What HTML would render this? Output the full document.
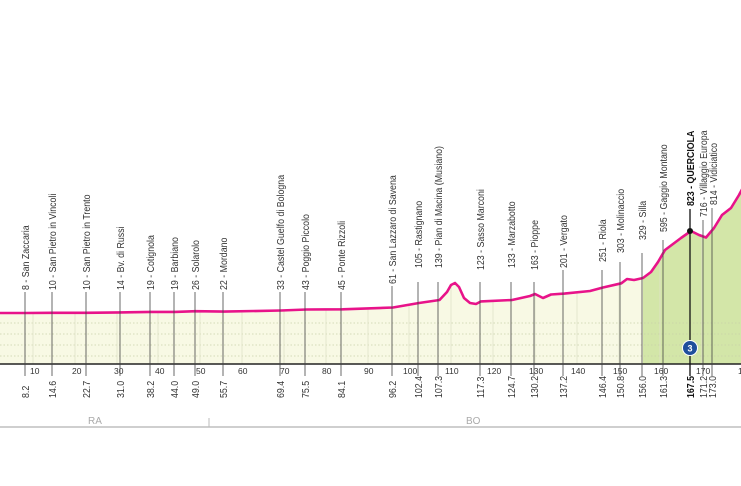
<!DOCTYPE html>
<html><head><meta charset="utf-8"><style>
html,body{margin:0;padding:0;background:#fff;}
svg{display:block;font-family:"Liberation Sans",sans-serif;}
</style></head><body>
<svg width="741" height="486" viewBox="0 0 741 486" xmlns="http://www.w3.org/2000/svg">
<defs>
<clipPath id="cl"><path d="M-9,313 L25.3,313 L52,312.8 L86,312.8 L120.6,312.4 L150.7,311.9 L175,311.9 L195.8,311.2 L223.8,311.6 L281,310.5 L306.6,309.5 L342.5,309.3 L393,307.5 L419,303 L439.5,300 L447,292 L451,285 L455,283 L459,287 L464,298 L470,303 L476,304 L481,301.4 L512,300 L530,296 L535,294 L543,298 L551,294.5 L564.5,293.6 L590,291 L603,287.5 L621.3,283.3 L627,279 L634,280 L643,278 L651,272 L658,262 L665,250 L673,244 L681,238 L691,231 L699,235 L706,237.5 L714,228 L722,215 L731,208 L739,195 L748,178 L748,364 L-9,364 Z"/></clipPath>
</defs>
<g clip-path="url(#cl)">
<rect x="0" y="170" width="643" height="194" fill="#f8f9e4"/>
<rect x="643" y="170" width="110" height="194" fill="#d3e6a8"/>
<g stroke="#c9cfa8" stroke-width="0.8" stroke-dasharray="1.5,2">
<line x1="0" y1="323" x2="741" y2="323"/><line x1="0" y1="334" x2="741" y2="334"/><line x1="0" y1="345" x2="741" y2="345"/><line x1="0" y1="356" x2="741" y2="356"/>
</g>
<g stroke="#dfe3c8" stroke-width="0.8">
<line x1="33" y1="170" x2="33" y2="364"/><line x1="75" y1="170" x2="75" y2="364"/><line x1="117" y1="170" x2="117" y2="364"/><line x1="158" y1="170" x2="158" y2="364"/><line x1="200" y1="170" x2="200" y2="364"/><line x1="242" y1="170" x2="242" y2="364"/><line x1="284" y1="170" x2="284" y2="364"/><line x1="326" y1="170" x2="326" y2="364"/><line x1="368" y1="170" x2="368" y2="364"/><line x1="409" y1="170" x2="409" y2="364"/><line x1="451" y1="170" x2="451" y2="364"/><line x1="493" y1="170" x2="493" y2="364"/><line x1="535" y1="170" x2="535" y2="364"/><line x1="577" y1="170" x2="577" y2="364"/><line x1="619" y1="170" x2="619" y2="364"/><line x1="660" y1="170" x2="660" y2="364"/><line x1="702" y1="170" x2="702" y2="364"/>
</g>
</g>
<path d="M-9,313 L25.3,313 L52,312.8 L86,312.8 L120.6,312.4 L150.7,311.9 L175,311.9 L195.8,311.2 L223.8,311.6 L281,310.5 L306.6,309.5 L342.5,309.3 L393,307.5 L419,303 L439.5,300 L447,292 L451,285 L455,283 L459,287 L464,298 L470,303 L476,304 L481,301.4 L512,300 L530,296 L535,294 L543,298 L551,294.5 L564.5,293.6 L590,291 L603,287.5 L621.3,283.3 L627,279 L634,280 L643,278 L651,272 L658,262 L665,250 L673,244 L681,238 L691,231 L699,235 L706,237.5 L714,228 L722,215 L731,208 L739,195 L748,178" fill="none" stroke="#e8138a" stroke-width="2.6" stroke-linejoin="round"/>
<line x1="0" y1="364" x2="741" y2="364" stroke="#222" stroke-width="1.5"/>
<g font-size="8.5" fill="#333">
<text x="30" y="374">10</text><text x="72" y="374">20</text><text x="114" y="374">30</text><text x="155" y="374">40</text><text x="196" y="374">50</text><text x="238" y="374">60</text><text x="280" y="374">70</text><text x="322" y="374">80</text><text x="364" y="374">90</text><text x="403" y="374">100</text><text x="445" y="374">110</text><text x="487" y="374">120</text><text x="529" y="374">130</text><text x="571" y="374">140</text><text x="613" y="374">150</text><text x="654" y="374">160</text><text x="696" y="374">170</text><text x="738" y="374">1</text>
</g>
<g stroke="#444" stroke-width="0.8">
<line x1="25" y1="292" x2="25" y2="376"/><line x1="52" y1="292" x2="52" y2="376"/><line x1="86" y1="292" x2="86" y2="376"/><line x1="120" y1="292" x2="120" y2="376"/><line x1="150" y1="292" x2="150" y2="376"/><line x1="174" y1="292" x2="174" y2="376"/><line x1="195" y1="292" x2="195" y2="376"/><line x1="223" y1="292" x2="223" y2="376"/><line x1="280" y1="292" x2="280" y2="376"/><line x1="305" y1="292" x2="305" y2="376"/><line x1="341" y1="292" x2="341" y2="376"/><line x1="392" y1="286" x2="392" y2="376"/><line x1="418" y1="282" x2="418" y2="376"/><line x1="438" y1="282" x2="438" y2="376"/><line x1="480" y1="282" x2="480" y2="376"/><line x1="511" y1="282" x2="511" y2="376"/><line x1="534" y1="282" x2="534" y2="376"/><line x1="563" y1="270" x2="563" y2="376"/><line x1="602" y1="270" x2="602" y2="376"/><line x1="620" y1="262" x2="620" y2="376"/><line x1="642" y1="253" x2="642" y2="376"/><line x1="663" y1="240" x2="663" y2="376"/><line x1="703" y1="220" x2="703" y2="376"/><line x1="712" y1="208" x2="712" y2="376"/>
</g>
<line x1="690" y1="209" x2="690" y2="376" stroke="#111" stroke-width="1.3"/>
<circle cx="690" cy="231" r="3" fill="#111"/>
<circle cx="690" cy="348" r="7.5" fill="#1f4f9c" stroke="#fff" stroke-width="1"/>
<text x="690" y="351.5" font-size="9" font-weight="bold" fill="#fff" text-anchor="middle">3</text>
<g font-size="10.5" fill="#333">
<g transform="translate(29,290) rotate(-90) scale(0.84,1)"><text>8 - San Zaccaria</text></g>
<g transform="translate(56,290) rotate(-90) scale(0.84,1)"><text>10 - San Pietro in Vincoli</text></g>
<g transform="translate(90,290) rotate(-90) scale(0.84,1)"><text>10 - San Pietro in Trento</text></g>
<g transform="translate(124,290) rotate(-90) scale(0.84,1)"><text>14 - Bv. di Russi</text></g>
<g transform="translate(154,290) rotate(-90) scale(0.84,1)"><text>19 - Cotignola</text></g>
<g transform="translate(178,290) rotate(-90) scale(0.84,1)"><text>19 - Barbiano</text></g>
<g transform="translate(199,290) rotate(-90) scale(0.84,1)"><text>26 - Solarolo</text></g>
<g transform="translate(227,290) rotate(-90) scale(0.84,1)"><text>22 - Mordano</text></g>
<g transform="translate(284,290) rotate(-90) scale(0.84,1)"><text>33 - Castel Guelfo di Bologna</text></g>
<g transform="translate(309,290) rotate(-90) scale(0.84,1)"><text>43 - Poggio Piccolo</text></g>
<g transform="translate(345,290) rotate(-90) scale(0.84,1)"><text>45 - Ponte Rizzoli</text></g>
<g transform="translate(396,284) rotate(-90) scale(0.84,1)"><text>61 - San Lazzaro di Savena</text></g>
<g transform="translate(422,268) rotate(-90) scale(0.84,1)"><text>105 - Rastignano</text></g>
<g transform="translate(442,268) rotate(-90) scale(0.84,1)"><text>139 - Pian di Macina (Musiano)</text></g>
<g transform="translate(484,270) rotate(-90) scale(0.84,1)"><text>123 - Sasso Marconi</text></g>
<g transform="translate(515,268) rotate(-90) scale(0.84,1)"><text>133 - Marzabotto</text></g>
<g transform="translate(538,270) rotate(-90) scale(0.84,1)"><text>163 - Pioppe</text></g>
<g transform="translate(567,268) rotate(-90) scale(0.84,1)"><text>201 - Vergato</text></g>
<g transform="translate(606,262) rotate(-90) scale(0.84,1)"><text>251 - Riola</text></g>
<g transform="translate(624,253) rotate(-90) scale(0.84,1)"><text>303 - Molinaccio</text></g>
<g transform="translate(646,240) rotate(-90) scale(0.84,1)"><text>329 - Silla</text></g>
<g transform="translate(667,232) rotate(-90) scale(0.84,1)"><text>595 - Gaggio Montano</text></g>
<g transform="translate(694,206) rotate(-90) scale(0.84,1)"><text font-weight="bold" fill="#111">823 - QUERCIOLA</text></g>
<g transform="translate(707,217) rotate(-90) scale(0.84,1)"><text>716 - Villaggio Europa</text></g>
<g transform="translate(717,205) rotate(-90) scale(0.84,1)"><text>814 - Vidiciatico</text></g>
</g>
<g font-size="10.5" fill="#333">
<g transform="translate(29,398) rotate(-90) scale(0.84,1)"><text>8.2</text></g>
<g transform="translate(56,398) rotate(-90) scale(0.84,1)"><text>14.6</text></g>
<g transform="translate(90,398) rotate(-90) scale(0.84,1)"><text>22.7</text></g>
<g transform="translate(124,398) rotate(-90) scale(0.84,1)"><text>31.0</text></g>
<g transform="translate(154,398) rotate(-90) scale(0.84,1)"><text>38.2</text></g>
<g transform="translate(178,398) rotate(-90) scale(0.84,1)"><text>44.0</text></g>
<g transform="translate(199,398) rotate(-90) scale(0.84,1)"><text>49.0</text></g>
<g transform="translate(227,398) rotate(-90) scale(0.84,1)"><text>55.7</text></g>
<g transform="translate(284,398) rotate(-90) scale(0.84,1)"><text>69.4</text></g>
<g transform="translate(309,398) rotate(-90) scale(0.84,1)"><text>75.5</text></g>
<g transform="translate(345,398) rotate(-90) scale(0.84,1)"><text>84.1</text></g>
<g transform="translate(396,398) rotate(-90) scale(0.84,1)"><text>96.2</text></g>
<g transform="translate(422,398) rotate(-90) scale(0.84,1)"><text>102.4</text></g>
<g transform="translate(442,398) rotate(-90) scale(0.84,1)"><text>107.3</text></g>
<g transform="translate(484,398) rotate(-90) scale(0.84,1)"><text>117.3</text></g>
<g transform="translate(515,398) rotate(-90) scale(0.84,1)"><text>124.7</text></g>
<g transform="translate(538,398) rotate(-90) scale(0.84,1)"><text>130.2</text></g>
<g transform="translate(567,398) rotate(-90) scale(0.84,1)"><text>137.2</text></g>
<g transform="translate(606,398) rotate(-90) scale(0.84,1)"><text>146.4</text></g>
<g transform="translate(624,398) rotate(-90) scale(0.84,1)"><text>150.8</text></g>
<g transform="translate(646,398) rotate(-90) scale(0.84,1)"><text>156.0</text></g>
<g transform="translate(667,398) rotate(-90) scale(0.84,1)"><text>161.3</text></g>
<g transform="translate(694,398) rotate(-90) scale(0.84,1)"><text font-weight="bold" fill="#111">167.5</text></g>
<g transform="translate(707,398) rotate(-90) scale(0.84,1)"><text>171.2</text></g>
<g transform="translate(716,398) rotate(-90) scale(0.84,1)"><text>173.0</text></g>
</g>
<line x1="0" y1="427" x2="741" y2="427" stroke="#cfcfcf" stroke-width="2"/>
<line x1="209" y1="418" x2="209" y2="427" stroke="#bbb" stroke-width="1"/>
<text x="88" y="424" font-size="10" fill="#aaa">RA</text>
<text x="466" y="424" font-size="10" fill="#aaa">BO</text>
</svg>
</body></html>
